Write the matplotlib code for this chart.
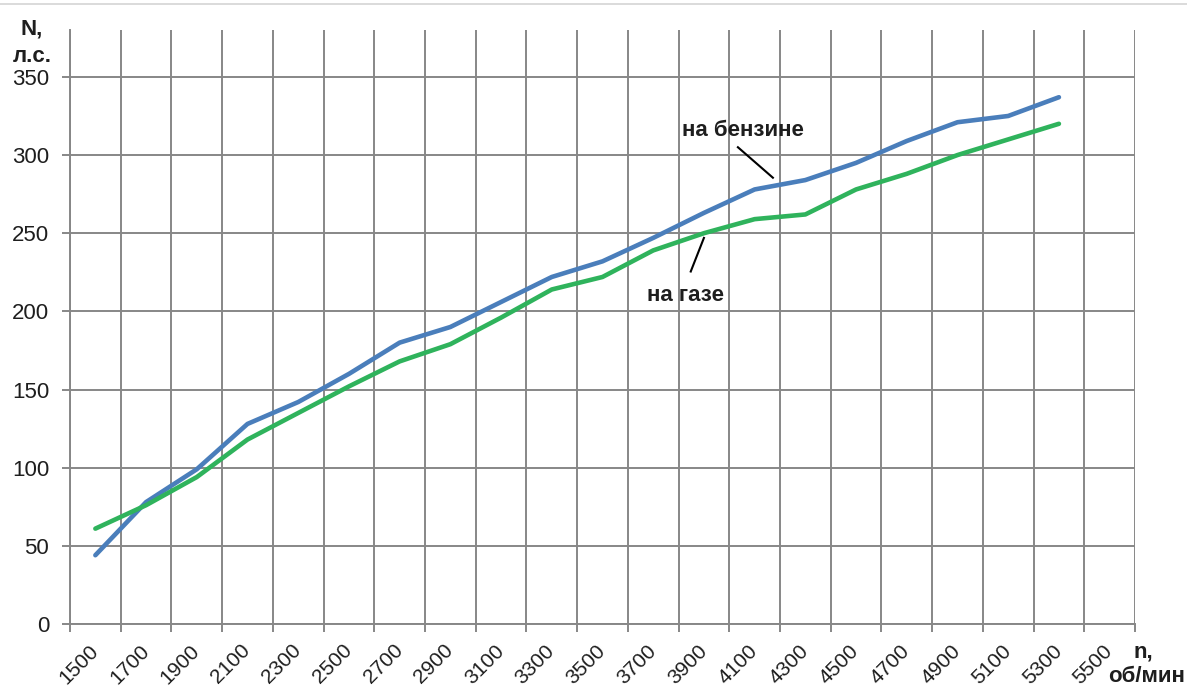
import matplotlib
matplotlib.use('Agg')
import matplotlib.pyplot as plt
from matplotlib.lines import Line2D
import numpy as np

# engine speed categories, rpm
rpm_labels = ['1500', '1700', '1900', '2100', '2300', '2500', '2700', '2900',
              '3100', '3300', '3500', '3700', '3900', '4100', '4300', '4500',
              '4700', '4900', '5100', '5300', '5500']

# power output, hp
power_petrol = [44, 78, 99, 128, 142, 160, 180, 190, 206, 222,
                232, 247, 263, 278, 284, 295, 309, 321, 325, 337]
power_gas = [61, 76, 94, 118, 135, 152, 168, 179, 196, 214,
             222, 239, 250, 259, 262, 278, 288, 300, 310, 320]

y_ticks = [0, 50, 100, 150, 200, 250, 300, 350]

plt.rcParams['font.family'] = ['Liberation Sans', 'DejaVu Sans']

GRID = '#878787'
TEXT = '#1e1e1e'
BLUE = '#4a7ebb'
GREEN = '#2fb35c'
FS = 16

W, H = 1187, 688
fig = plt.figure(figsize=(W / 100, H / 100), dpi=100)
ax = fig.add_axes([70 / W, 64 / H, (1135 - 70) / W, (658 - 64) / H])

x = np.arange(len(power_petrol))
ax.plot(x, power_petrol, color=BLUE, lw=3.3, solid_capstyle='round', zorder=3)
ax.plot(x, power_gas, color=GREEN, lw=3.3, solid_capstyle='round', zorder=3)

ax.set_xlim(-0.5, len(rpm_labels) - 0.5)
ax.set_ylim(0, 380)

# category axis: labels at centres, grid and ticks at boundaries
ax.set_xticks(np.arange(len(rpm_labels)))
ax.set_xticklabels(rpm_labels, rotation=45, ha='right', va='center',
                   rotation_mode='anchor', fontsize=15, color=TEXT)
ax.set_xticks(np.arange(-0.5, len(rpm_labels)), minor=True)
ax.tick_params(axis='x', which='major', length=0, pad=17)
ax.tick_params(axis='x', which='minor', length=6, width=1.4, color=GRID)
ax.grid(which='minor', axis='x', color=GRID, lw=1.4)

ax.set_yticks(y_ticks)
ax.set_yticklabels([str(v) for v in y_ticks], fontsize=FS, color=TEXT)
ax.tick_params(axis='y', length=6, width=1.4, color=GRID, pad=9)
ax.grid(which='major', axis='y', color=GRID, lw=1.4)

for side in ('top', 'right'):
    ax.spines[side].set_visible(False)
for side in ('left', 'bottom'):
    ax.spines[side].set_color(GRID)
    ax.spines[side].set_linewidth(1.4)
ax.set_axisbelow(True)

# curve captions with leader lines
ax.text(12.77, 316, 'на бензине', fontsize=FS, fontweight='bold',
        color=TEXT, ha='center', va='center')
ax.plot([12.67, 13.36], [305, 285.5], color='black', lw=1.5, zorder=4)
ax.text(11.64, 210, 'на газе', fontsize=FS, fontweight='bold',
        color=TEXT, ha='center', va='center')
ax.plot([11.74, 12.0], [225.5, 247], color='black', lw=1.5, zorder=4)

# axis titles
fig.text(32 / W, 1 - 29 / H, 'N,', fontsize=FS, fontweight='bold',
         color=TEXT, ha='center', va='center')
fig.text(32 / W, 1 - 56 / H, 'л.с.', fontsize=FS, fontweight='bold',
         color=TEXT, ha='center', va='center')
fig.text(1143 / W, 1 - 652 / H, 'n,', fontsize=FS, fontweight='bold',
         color=TEXT, ha='center', va='center')
fig.text(1147 / W, 1 - 677 / H, 'об/мин', fontsize=FS, fontweight='bold',
         color=TEXT, ha='center', va='center')

# thin frame line along the top edge
fig.add_artist(Line2D([0, 1], [1 - 4 / H, 1 - 4 / H], color='#d4d4d4', lw=1.2))

fig.savefig('out.png', dpi=100)
